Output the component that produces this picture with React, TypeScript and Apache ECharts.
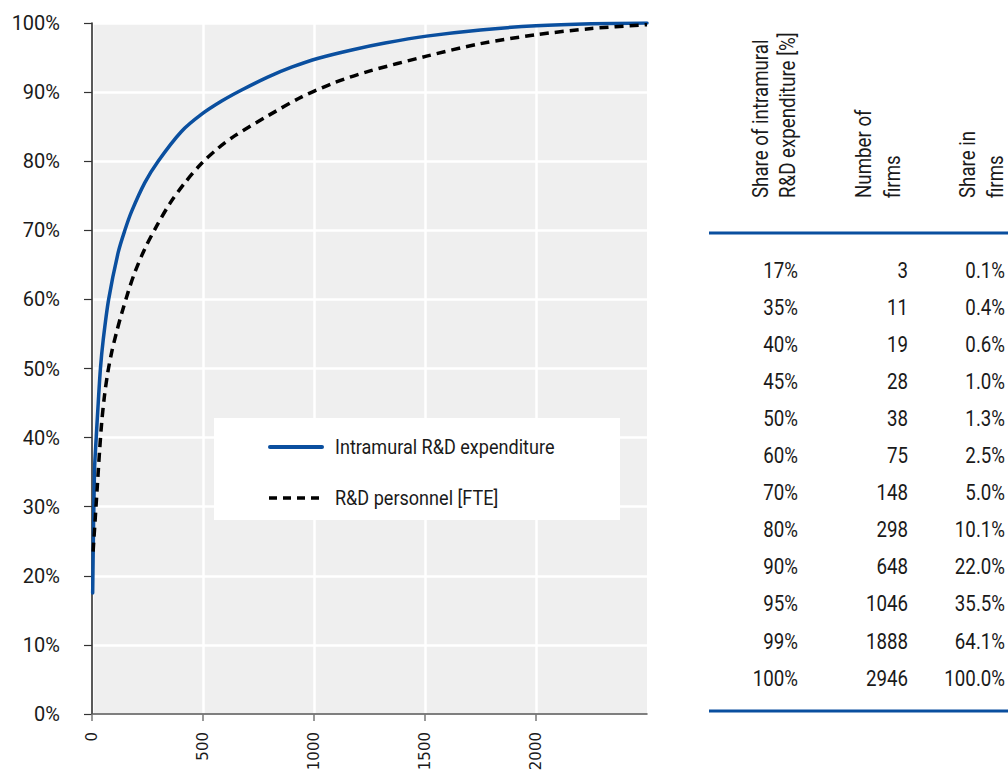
import React, { useEffect, useRef } from "react";
import * as echarts from "echarts";

// Curve: cumulative share of intramural R&D expenditure (%) vs number of firms
const expenditureX = [3, 11, 19, 28, 38, 50, 75, 118, 148, 178, 238, 298, 403, 494, 584, 674, 794, 899, 1020, 1170, 1320, 1507, 1750, 2000, 2250, 2500];
const expenditureY = [17.5, 35, 40, 45, 50, 54, 60, 66.8, 70, 72.7, 76.9, 80, 84.3, 86.8, 88.7, 90.3, 92.2, 93.6, 94.9, 96.1, 97.1, 98.1, 99, 99.6, 99.9, 100];

// Curve: cumulative share of R&D personnel [FTE] (%) vs number of firms
const personnelX = [5, 14, 24, 34, 44, 56, 71, 89, 111, 134, 164, 194, 239, 291, 351, 419, 494, 569, 644, 794, 945, 1095, 1245, 1507, 1748, 2000, 2250, 2500];
const personnelY = [23.5, 28, 33, 38, 42.3, 46, 49.4, 52.4, 55.3, 58, 61.2, 64, 67.4, 70.6, 73.9, 76.9, 79.7, 81.9, 83.7, 86.6, 89.3, 91.4, 93, 95.2, 97, 98.3, 99.2, 99.75];

const seriesNames = ["Intramural R&D expenditure", "R&D personnel [FTE]"];

// Table
const tableHeaders = [
  ["Share of intramural", "R&D expenditure [%]"],
  ["Number of", "firms"],
  ["Share in", "firms"],
];
const tableShare = ["17%", "35%", "40%", "45%", "50%", "60%", "70%", "80%", "90%", "95%", "99%", "100%"];
const tableFirms = ["3", "11", "19", "28", "38", "75", "148", "298", "648", "1046", "1888", "2946"];
const tableShareFirms = ["0.1%", "0.4%", "0.6%", "1.0%", "1.3%", "2.5%", "5.0%", "10.1%", "22.0%", "35.5%", "64.1%", "100.0%"];

const xTicks = [0, 500, 1000, 1500, 2000];

const BLUE = "#0a4f9f";
const FONT = "Roboto, 'DejaVu Sans', sans-serif";
const TXT = "#1a1a1a";

export default function App() {
  const ref = useRef<HTMLDivElement>(null);
  useEffect(() => {
    if (!ref.current) return;
    const chart = echarts.init(ref.current, undefined, { renderer: "svg" });

    const graphics: any[] = [];
    // legend box
    graphics.push({ type: "rect", shape: { x: 214, y: 418, width: 406, height: 102 }, style: { fill: "#ffffff" }, z: 1 });
    const legendY = [447, 498];
    graphics.push({
      type: "line",
      shape: { x1: 270, y1: legendY[0], x2: 322, y2: legendY[0] },
      style: { stroke: BLUE, lineWidth: 4, lineCap: "round" },
      z: 2,
    });
    graphics.push({
      type: "line",
      shape: { x1: 269, y1: legendY[1], x2: 324, y2: legendY[1] },
      style: { stroke: "#000", lineWidth: 3.5, lineDash: [8, 6], lineCap: "butt" },
      z: 2,
    });
    seriesNames.forEach((n, i) => {
      graphics.push({
        type: "text",
        x: 335,
        y: legendY[i],
        scaleX: 0.86,
        style: { text: n, font: `21px ${FONT}`, fill: TXT, align: "left", verticalAlign: "middle" },
        z: 2,
      });
    });
    // table headers (rotated)
    const headerX = [[760, 787], [863, 892], [967, 995]];
    tableHeaders.forEach((lines, c) => {
      lines.forEach((t, l) => {
        graphics.push({
          type: "text",
          x: headerX[c][l],
          y: 198,
          rotation: Math.PI / 2,
          scaleX: 0.85,
          style: { text: t, font: `22px ${FONT}`, fill: TXT, align: "left", verticalAlign: "middle" },
        });
      });
    });
    // table lines
    graphics.push({ type: "line", shape: { x1: 709, y1: 233, x2: 1008, y2: 233 }, style: { stroke: BLUE, lineWidth: 3 } });
    graphics.push({ type: "line", shape: { x1: 709, y1: 711, x2: 1008, y2: 711 }, style: { stroke: BLUE, lineWidth: 3 } });
    const colRight = [798, 908, 1005];
    const cols = [tableShare, tableFirms, tableShareFirms];
    cols.forEach((col, c) => {
      col.forEach((t, r) => {
        graphics.push({
          type: "text",
          x: colRight[c],
          y: 270 + r * 37.1,
          scaleX: 0.85,
          style: { text: t, font: `22px ${FONT}`, fill: TXT, align: "right", verticalAlign: "middle" },
        });
      });
    });

    chart.setOption({
      animation: false,
      backgroundColor: "#ffffff",
      grid: { left: 92, right: 361, top: 23, bottom: 61, show: true, backgroundColor: "#efefef", borderWidth: 0 },
      xAxis: {
        type: "value",
        min: 0,
        max: 2500,
        interval: 500,
        axisLine: { show: true, onZero: false, lineStyle: { color: "#555", width: 1.5 } },
        axisTick: { show: true, length: 7, lineStyle: { color: "#777", width: 1.5 }, customValues: xTicks },
        axisLabel: {
          rotate: 90,
          margin: 18,
          fontFamily: "'DejaVu Sans', sans-serif",
          fontSize: 15,
          color: TXT,
          customValues: xTicks,
          formatter: (v: number) => (v === 2500 ? "" : String(v)),
        },
        splitLine: { show: true, lineStyle: { color: "#ffffff", width: 2.5 } },
      },
      yAxis: {
        type: "value",
        min: 0,
        max: 100,
        interval: 10,
        axisLine: { show: true, lineStyle: { color: "#222", width: 1.5 } },
        axisTick: { show: true, length: 8, lineStyle: { color: "#333", width: 1.2 } },
        axisLabel: { margin: 32, fontFamily: FONT, fontSize: 20, color: TXT, formatter: "{value}%" },
        splitLine: { show: true, lineStyle: { color: "#ffffff", width: 2.5 } },
      },
      series: [
        {
          name: seriesNames[0],
          type: "line",
          symbol: "none",
          smooth: 0.3,
          data: expenditureX.map((x, i) => [x, expenditureY[i]]),
          lineStyle: { color: BLUE, width: 3.5, cap: "round" },
          itemStyle: { color: BLUE },
          z: 3,
        },
        {
          name: seriesNames[1],
          type: "line",
          symbol: "none",
          smooth: 0.3,
          data: personnelX.map((x, i) => [x, personnelY[i]]),
          lineStyle: { color: "#000", width: 3.5, type: [9, 6] },
          itemStyle: { color: "#000" },
          z: 3,
        },
      ],
      graphic: graphics,
    });
    return () => chart.dispose();
  }, []);
  return <div ref={ref} style={{ position: "fixed", left: 0, top: 0, width: 1008, height: 775 }} />;
}
